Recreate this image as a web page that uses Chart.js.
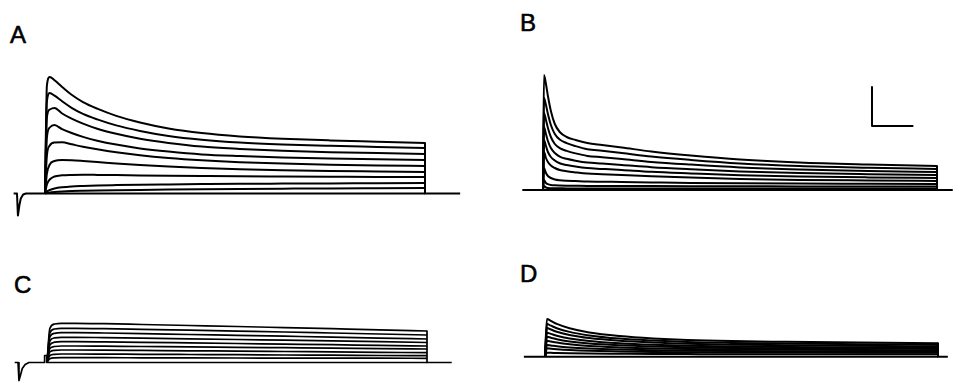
<!DOCTYPE html>
<html>
<head>
<meta charset="utf-8">
<script src="https://cdn.jsdelivr.net/npm/chart.js@4.4.0/dist/chart.umd.min.js"></script>
<style>
  body { margin: 0; background: #fff; }
  #fig { position: relative; width: 953px; height: 382px; overflow: hidden; background: #fff; }
  #fig canvas { position: absolute; }
  .lbl { position: absolute; font-family: 'Liberation Sans', Arial, sans-serif; font-size: 24px; font-weight: normal; line-height: 24px; color: #000; -webkit-text-stroke: 0.6px #000; }
</style>
</head>
<body>
<div id="fig">
  <div class="lbl" style="left:10px;top:23px">A</div>
  <div class="lbl" style="left:520px;top:11px">B</div>
  <div class="lbl" style="left:14px;top:273px">C</div>
  <div class="lbl" style="left:520px;top:262px">D</div>
  <canvas id="chartA" width="470" height="180" style="left:0px;top:50px"></canvas>
  <canvas id="chartB" width="453" height="180" style="left:500px;top:50px"></canvas>
  <canvas id="chartC" width="470" height="92" style="left:0px;top:290px"></canvas>
  <canvas id="chartD" width="453" height="92" style="left:500px;top:290px"></canvas>
</div>
<script>
// time in ms from the start of the voltage step, current in nA

// panel A
const timeA = [0, 2, 5, 10, 18, 28, 40, 55, 75, 100, 130, 165, 205, 250, 300, 350, 400];
const tracesA = [
  [0, 10.8, 11.65, 11.32, 10.66, 9.87, 9.14, 8.48, 7.76, 7.10, 6.50, 6.04, 5.71, 5.48, 5.31, 5.18, 5.05],
  [0, 9.2, 10.05, 9.78, 9.23, 8.57, 7.96, 7.41, 6.81, 6.26, 5.76, 5.38, 5.10, 4.91, 4.77, 4.66, 4.55],
  [0, 7.6, 8.4, 8.55, 8.0, 7.49, 6.99, 6.48, 5.97, 5.47, 5.05, 4.69, 4.46, 4.27, 4.13, 4.04, 3.95],
  [0, 5.6, 6.6, 6.85, 6.43, 6.05, 5.66, 5.28, 4.89, 4.51, 4.19, 3.91, 3.74, 3.60, 3.49, 3.42, 3.35],
  [0, 3.8, 4.8, 5.1, 5.12, 4.92, 4.68, 4.42, 4.12, 3.82, 3.55, 3.32, 3.13, 2.99, 2.88, 2.8, 2.75],
  [0, 2.0, 2.9, 3.25, 3.35, 3.32, 3.25, 3.15, 3.0, 2.85, 2.7, 2.55, 2.43, 2.33, 2.25, 2.2, 2.15],
  [0, 0.9, 1.4, 1.7, 1.82, 1.86, 1.87, 1.86, 1.84, 1.81, 1.78, 1.75, 1.72, 1.7, 1.68, 1.66, 1.65],
  [0, 0.2, 0.35, 0.5, 0.62, 0.7, 0.75, 0.8, 0.84, 0.88, 0.91, 0.94, 0.97, 0.99, 1.01, 1.03, 1.05],
  [0, 0.05, 0.1, 0.15, 0.2, 0.24, 0.27, 0.3, 0.33, 0.36, 0.39, 0.42, 0.45, 0.48, 0.51, 0.53, 0.55]
];
const baseTimeA = [-33, -29.5, -28.5, -27, -25.5, -23, -20, 0, 400];
const baseA = [0, 0, -2.2, -1.2, -0.5, -0.1, 0, 0, 0];
const offTimeA = [400, 400, 437];
const offA = [5.05, 0, 0];

// panel B
const timeB = [0, 1, 3, 5, 8, 12, 17, 24, 33, 45, 60, 80, 110, 150, 200, 260, 330, 400];
const tracesB = [
  [0, 11.5, 10.6, 9.4, 7.9, 6.6, 5.8, 5.3, 5.0, 4.7, 4.5, 4.25, 3.85, 3.45, 3.05, 2.75, 2.55, 2.4],
  [0, 9.2, 8.5, 7.6, 6.5, 5.6, 5.04, 4.69, 4.39, 4.08, 3.92, 3.7, 3.35, 3.01, 2.66, 2.4, 2.23, 2.1],
  [0, 7.7, 7.0, 6.2, 5.3, 4.6, 4.19, 3.91, 3.66, 3.41, 3.28, 3.1, 2.81, 2.54, 2.26, 2.05, 1.9, 1.8],
  [0, 6.3, 5.6, 4.9, 4.2, 3.7, 3.34, 3.12, 2.93, 2.74, 2.64, 2.5, 2.28, 2.07, 1.85, 1.69, 1.58, 1.5],
  [0, 5.0, 4.4, 3.8, 3.3, 2.95, 2.67, 2.5, 2.34, 2.19, 2.11, 2.0, 1.82, 1.66, 1.48, 1.35, 1.26, 1.2],
  [0, 3.8, 3.2, 2.8, 2.45, 2.2, 2.0, 1.87, 1.76, 1.64, 1.58, 1.5, 1.37, 1.24, 1.11, 1.01, 0.95, 0.9],
  [0, 2.2, 1.7, 1.4, 1.2, 1.05, 0.97, 0.92, 0.89, 0.85, 0.83, 0.8, 0.76, 0.71, 0.67, 0.64, 0.62, 0.6],
  [0, 1.0, 0.7, 0.58, 0.5, 0.47, 0.45, 0.43, 0.42, 0.41, 0.41, 0.4, 0.39, 0.38, 0.37, 0.36, 0.35, 0.35],
  [0, 0.4, 0.25, 0.2, 0.18, 0.17, 0.17, 0.16, 0.16, 0.16, 0.16, 0.16, 0.15, 0.15, 0.15, 0.15, 0.15, 0.15]
];
const baseTimeB = [-21, 400];
const baseB = [0, 0];
const offTimeB = [400, 400, 416];
const offB = [2.4, 0, 0];
const scaleBarX = [334, 334, 376];
const scaleBarY = [10.3, 6.4, 6.4];

// panel C
const timeC = [0, 3, 8, 15, 30, 60, 100, 150, 200, 250, 300, 350, 400];
const tracesC = [
  [0, 3.4, 3.85, 3.92, 3.92, 3.88, 3.8, 3.7, 3.6, 3.49, 3.38, 3.27, 3.15],
  [0, 2.95, 3.35, 3.42, 3.42, 3.39, 3.32, 3.23, 3.14, 3.05, 2.95, 2.85, 2.75],
  [0, 2.55, 2.92, 2.98, 2.98, 2.95, 2.89, 2.8, 2.72, 2.63, 2.54, 2.44, 2.35],
  [0, 2.15, 2.46, 2.52, 2.52, 2.49, 2.44, 2.37, 2.3, 2.23, 2.16, 2.08, 2.0],
  [0, 1.75, 2.03, 2.08, 2.08, 2.06, 2.02, 1.96, 1.9, 1.84, 1.78, 1.71, 1.65],
  [0, 1.4, 1.6, 1.65, 1.65, 1.63, 1.6, 1.57, 1.52, 1.48, 1.44, 1.39, 1.35],
  [0, 1.05, 1.21, 1.25, 1.25, 1.24, 1.21, 1.17, 1.14, 1.1, 1.06, 1.02, 0.98],
  [0, 0.7, 0.82, 0.85, 0.85, 0.84, 0.82, 0.8, 0.78, 0.75, 0.73, 0.7, 0.68],
  [0, 0.38, 0.46, 0.48, 0.48, 0.48, 0.47, 0.46, 0.45, 0.44, 0.43, 0.43, 0.42]
];
const baseTimeC = [-34, -30.5, -29.5, -28, -26, -23, -19, -2.5, -2.5, 0, 0, 400];
const baseC = [0, 0, -1.8, -1.3, -0.6, -0.2, 0, 0, 0.7, 0.7, 0, 0];
const offTimeC = [400, 400, 426];
const offC = [3.15, 0, 0];

// panel D
const timeD = [0, 2, 6, 12, 25, 45, 76, 110, 145, 190, 246, 320, 400];
const tracesD = [
  [0, 3.78, 3.59, 3.29, 2.86, 2.44, 2.08, 1.84, 1.68, 1.57, 1.5, 1.42, 1.35],
  [0, 3.28, 3.11, 2.86, 2.49, 2.14, 1.82, 1.62, 1.48, 1.39, 1.32, 1.26, 1.2],
  [0, 2.88, 2.73, 2.51, 2.18, 1.87, 1.6, 1.42, 1.3, 1.21, 1.16, 1.1, 1.05],
  [0, 2.41, 2.29, 2.11, 1.84, 1.58, 1.35, 1.2, 1.11, 1.04, 0.99, 0.95, 0.9],
  [0, 2.01, 1.91, 1.76, 1.54, 1.33, 1.15, 1.03, 0.95, 0.89, 0.85, 0.82, 0.78],
  [0, 1.61, 1.53, 1.42, 1.25, 1.08, 0.94, 0.84, 0.78, 0.74, 0.71, 0.68, 0.65],
  [0, 1.18, 1.13, 1.05, 0.93, 0.82, 0.72, 0.65, 0.61, 0.58, 0.56, 0.54, 0.52],
  [0, 0.85, 0.81, 0.76, 0.68, 0.6, 0.54, 0.49, 0.46, 0.44, 0.43, 0.41, 0.4],
  [0, 0.41, 0.4, 0.38, 0.35, 0.32, 0.3, 0.28, 0.27, 0.26, 0.26, 0.25, 0.25]
];
const baseTimeD = [-21.5, 400];
const baseD = [0, 0];
const offTimeD = [400, 400, 410];
const offD = [1.35, 0, 0];

/**
 * turns a pair of x / y arrays into a black line dataset,
 * smooth ones use monotone interpolation so the decays have no corners
 */
function trace (xs, ys, width, smooth) {
  const ds = {
    data: xs.map((x, i) => ({ x: x, y: ys[i] })),
    borderColor: '#000',
    borderWidth: width,
    borderJoinStyle: 'round',
    pointRadius: 0,
    fill: false,
    tension: 0
  };
  if (smooth) {
    ds.cubicInterpolationMode = 'monotone';
  }
  return ds;
}

/**
 * draws one panel, axes hidden, scale ranges chosen so the traces land where they sit in the figure
 */
function drawPanel (id, time, traces, extra, width, xRange, yRange) {
  const datasets = traces.map(tr => trace(time, tr, width, true));
  extra.forEach(e => datasets.push(trace(e[0], e[1], width, false)));
  return new Chart(document.getElementById(id), {
    type: 'line',
    data: { datasets },
    options: {
      responsive: false,
      animation: false,
      devicePixelRatio: 1,
      layout: { padding: 0 },
      plugins: { legend: { display: false }, tooltip: { enabled: false } },
      scales: {
        x: { type: 'linear', min: xRange[0], max: xRange[1], display: false },
        y: { type: 'linear', min: yRange[0], max: yRange[1], display: false }
      }
    }
  });
}

drawPanel('chartA', timeA, tracesA, [[baseTimeA, baseA], [offTimeA, offA]], 2, [-47.37, 447.37], [-3.65, 14.35]);
drawPanel('chartB', timeB, tracesB, [[baseTimeB, baseB], [offTimeB, offB], [scaleBarX, scaleBarY]], 2, [-43.65, 416.24], [-4.0, 14.0]);
drawPanel('chartC', timeC, tracesC, [[baseTimeC, baseC], [offTimeC, offC]], 1.7, [-49.47, 445.26], [-1.95, 7.25]);
drawPanel('chartD', timeD, tracesD, [[baseTimeD, baseD], [offTimeD, offD]], 2, [-45.8, 415.27], [-2.52, 6.68]);
</script>
</body>
</html>
